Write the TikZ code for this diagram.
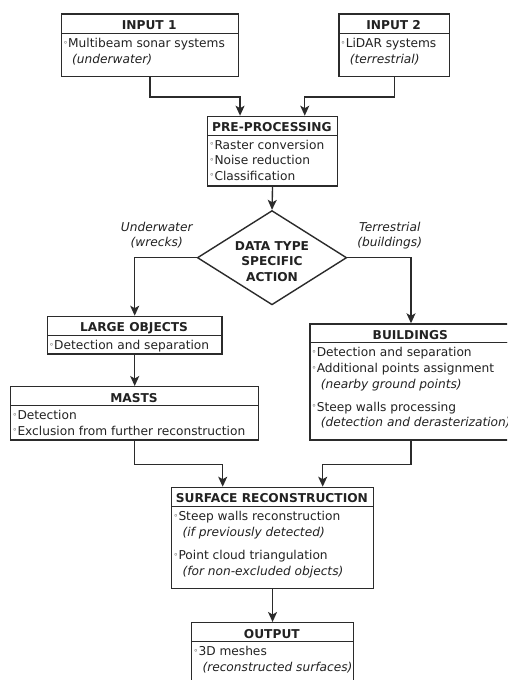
\documentclass[tikz,border=0pt]{standalone}
\usepackage{fontspec}
\setmainfont{DejaVu Sans}
\usepackage{graphicx}
\usetikzlibrary{shapes.geometric,arrows.meta,calc}
\definecolor{lc}{HTML}{2B2B2B}
\definecolor{tc}{HTML}{222222}
\definecolor{bc}{HTML}{7A7A7A}
\newcommand{\bul}{\llap{\raisebox{0.5pt}{\textcolor{bc}{\fontsize{8}{8}\selectfont °}}\hspace{0.6pt}}}
\begin{document}
\begin{tikzpicture}[x=1pt,y=-1pt,
  hdr/.style={draw=lc,line width=1.4pt,inner sep=0pt,anchor=north west},
  bodyb/.style={draw=lc,line width=1.4pt,inner sep=0pt,anchor=north west},
  ttl/.style={font=\bfseries\fontsize{12.2}{14}\selectfont,text=tc,anchor=base,inner sep=0pt},
  txt/.style={font=\fontsize{12.2}{14}\selectfont,text=tc,anchor=base west,inner sep=0pt},
  itx/.style={font=\itshape\fontsize{12.2}{14}\selectfont,text=tc,anchor=base west,inner sep=0pt},
  lbl/.style={font=\itshape\fontsize{12.2}{14}\selectfont,text=tc,anchor=base,inner sep=0pt},
  arr/.style={draw=lc,line width=1.4pt,-{Stealth[length=10pt,width=9pt,inset=2.5pt]}},
  dmd/.style={draw=lc,line width=1.4pt,diamond,inner sep=0pt}
]
\useasboundingbox (0,0) rectangle (507,680);
\clip (0,0) rectangle (507,680);
\fill[white] (0,0) rectangle (507,680);

% INPUT 1
\node[hdr,minimum width=177pt,minimum height=19.4pt] (in1) at (60.7,13.3) {};
\node[bodyb,minimum width=177pt,minimum height=43pt] (in1b) at (60.7,32.7) {};
\node[ttl] (in1t) at (149.2,29.3) {INPUT 1};
\node[txt] (in1l1) at (68,47.8) {\bul Multibeam sonar systems};
\node[itx] (in1l2) at (72,63.3) {(underwater)};

% INPUT 2
\node[hdr,minimum width=110.7pt,minimum height=19.2pt] (in2) at (338.3,13.3) {};
\node[bodyb,minimum width=110.7pt,minimum height=43.2pt] (in2b) at (338.3,32.5) {};
\node[ttl] (in2t) at (393.65,29.3) {INPUT 2};
\node[txt] (in2l1) at (345.6,47.8) {\bul LiDAR systems};
\node[itx] (in2l2) at (349.6,63.3) {(terrestrial)};

% PRE-PROCESSING
\node[hdr,minimum width=129.7pt,minimum height=19.3pt] (pre) at (207,115.7) {};
\node[bodyb,minimum width=129.7pt,minimum height=50.3pt] (preb) at (207,135) {};
\node[ttl] (pret) at (271.85,131.7) {PRE-PROCESSING};
\node[txt] (prel1) at (214.3,149) {\bul Raster conversion};
\node[txt] (prel2) at (214.3,164.7) {\bul Noise reduction};
\node[txt] (prel3) at (214.3,180.4) {\bul Classification};

% DIAMOND
\node[dmd,minimum width=149.4pt,minimum height=94.3pt] (dia) at (272,257.7) {};
\node[ttl] (dial1) at (272,250.1) {DATA TYPE};
\node[ttl] (dial2) at (272,265.4) {SPECIFIC};
\node[ttl] (dial3) at (272,281.1) {ACTION};
\node[lbl] (lu1) at (156.7,231) {Underwater};
\node[lbl] (lu2) at (156.7,246) {(wrecks)};
\node[lbl] (lt1) at (389.7,231) {Terrestrial};
\node[lbl] (lt2) at (389.7,246) {(buildings)};

% LARGE OBJECTS
\node[hdr,minimum width=174.6pt,minimum height=19.3pt] (lo) at (46.7,315.7) {};
\node[bodyb,minimum width=174.6pt,minimum height=18.3pt] (lob) at (46.7,335) {};
\node[ttl] (lot) at (134,331.7) {LARGE OBJECTS};
\node[txt] (lol1) at (54,349.8) {\bul Detection and separation};

% MASTS
\node[hdr,minimum width=248pt,minimum height=19pt] (ma) at (10,386) {};
\node[bodyb,minimum width=248pt,minimum height=34.3pt] (mab) at (10,405) {};
\node[ttl] (mat) at (134,402) {MASTS};
\node[txt] (mal1) at (17.3,419.8) {\bul Detection};
\node[txt] (mal2) at (17.3,435.4) {\bul Exclusion from further reconstruction};

% BUILDINGS
\node[hdr,minimum width=202pt,minimum height=18.4pt] (bu) at (309.3,323.3) {};
\node[bodyb,minimum width=202pt,minimum height=97.6pt] (bub) at (309.3,341.7) {};
\node[ttl] (but) at (410.3,339.3) {BUILDINGS};
\node[txt] (bul1) at (316.6,356.8) {\bul Detection and separation};
\node[txt] (bul2) at (316.6,372.6) {\bul Additional points assignment};
\node[itx] (bul3) at (320.6,388) {(nearby ground points)};
\node[txt] (bul4) at (316.6,411.4) {\bul Steep walls processing};
\node[itx] (bul5) at (320.6,426.8) {(detection and derasterization)};

% SURFACE RECONSTRUCTION
\node[hdr,minimum width=201.7pt,minimum height=19pt] (sr) at (171,486.7) {};
\node[bodyb,minimum width=201.7pt,minimum height=82pt] (srb) at (171,505.7) {};
\node[ttl] (srt) at (271.85,502.7) {SURFACE RECONSTRUCTION};
\node[txt] (srl1) at (178.3,520.6) {\bul Steep walls reconstruction};
\node[itx] (srl2) at (182.3,536.3) {(if previously detected)};
\node[txt] (srl3) at (178.3,559.8) {\bul Point cloud triangulation};
\node[itx] (srl4) at (182.3,575.5) {(for non-excluded objects)};

% OUTPUT
\node[hdr,minimum width=161.7pt,minimum height=19pt] (out) at (191,622) {};
\node[bodyb,minimum width=161.7pt,minimum height=50pt] (outb) at (191,641) {};
\node[ttl] (outt) at (271.85,638) {OUTPUT};
\node[txt] (outl1) at (198.3,655.6) {\bul 3D meshes};
\node[itx] (outl2) at (202.3,671.6) {(reconstructed surfaces)};

% CONNECTORS
\draw[arr] (in1b.south) -- ++(0,20) -| ($(pre.north)+(-32.5,0)$);
\draw[arr] (in2b.south) -- ++(0,20) -| ($(pre.north)+(32.2,0)$);
\draw[arr] (preb.south) -- (dia.north);
\draw[arr] (dia.west) -| (lo.north);
\draw[arr] (dia.east) -| (bu.north);
\draw[arr] (lob.south) -- (ma.north);
\draw[arr] (mab.south) -- ++(0,24) -| ($(sr.north)+(-49.85,0)$);
\draw[arr] (bub.south) -- ++(0,24) -| ($(sr.north)+(50.15,0)$);
\draw[arr] (srb.south) -- (out.north);
\end{tikzpicture}
\end{document}
